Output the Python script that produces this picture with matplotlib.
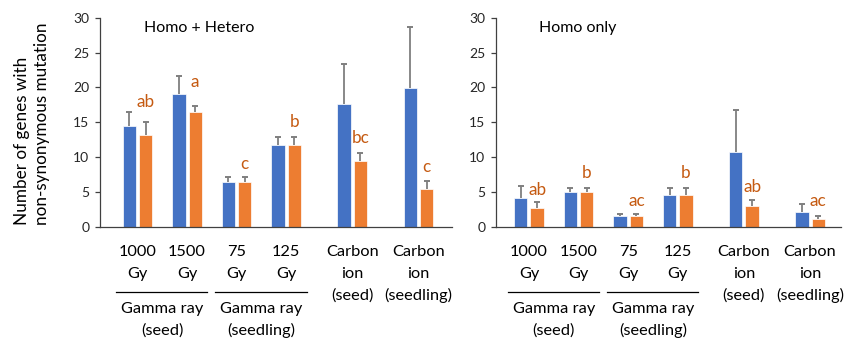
import numpy as np
import matplotlib
matplotlib.use('Agg')
import matplotlib.pyplot as plt

plt.rcParams['font.family'] = ['Lato', 'DejaVu Sans']

# --- data ---
groups = ["1000 Gy", "1500 Gy", "75 Gy", "125 Gy", "Carbon ion (seed)", "Carbon ion (seedling)"]
cat_lines = [["1000", "Gy"], ["1500", "Gy"], ["75", "Gy"], ["125", "Gy"],
             ["Carbon", "ion", "(seed)"], ["Carbon", "ion", "(seedling)"]]
super_labels = [["Gamma ray", "(seed)"], ["Gamma ray", "(seedling)"]]
super_span = [(0, 1), (2, 3)]
xpos = [0, 1, 2, 3, 4.333, 5.667]

hh_blue = [14.5, 19.0, 6.5, 11.7, 17.6, 19.9]
hh_blue_err = [2.0, 2.7, 0.6, 1.2, 5.7, 8.8]
hh_orange = [13.2, 16.5, 6.5, 11.7, 9.4, 5.4]
hh_orange_err = [1.9, 0.9, 0.6, 1.2, 1.2, 1.2]
hh_letters = ["ab", "a", "c", "b", "bc", "c"]
hh_gap = [2.1, 2.6, 1.15, 1.45, 1.5, 1.35]

ho_blue = [4.2, 5.05, 1.57, 4.58, 10.78, 2.19]
ho_blue_err = [1.7, 0.53, 0.29, 1.0, 5.96, 1.05]
ho_orange = [2.77, 5.05, 1.57, 4.58, 3.05, 1.19]
ho_orange_err = [0.81, 0.53, 0.29, 1.0, 0.75, 0.34]
ho_letters = ["ab", "b", "ac", "b", "ab", "ac"]
ho_gap = [1.05, 1.4, 1.1, 1.4, 1.16, 1.5]

BLUE, ORANGE, LETTER, EGRAY = "#4472C4", "#ED7D31", "#C55A11", "#7F7F7F"
PX = 1 / 1.389  # pixels -> points at dpi 100

fig = plt.figure(figsize=(8.44, 3.38), dpi=100)
ax1 = fig.add_axes([100 / 844, 1 - 227 / 338, 352 / 844, 209.3 / 338])
ax2 = fig.add_axes([496 / 844, 1 - 227 / 338, 345 / 844, 209.3 / 338])


def upper_err(ax, x, v, e):
    # one-sided error bar: stem + top cap only
    top = np.array(v) + np.array(e)
    ax.vlines(x, v, top, color=EGRAY, linewidth=1.3, zorder=1)
    ax.plot(x, top, ls="none", marker="_", ms=4.2, mew=1.4, color=EGRAY, zorder=1)


def draw_panel(ax, blue, berr, orange, oerr, letters, gaps, title, xlim):
    x = np.array(xpos)
    w, off = 0.27, 0.165
    upper_err(ax, x - off, blue, berr)
    upper_err(ax, x + off, orange, oerr)
    ax.bar(x - off, blue, w, color=BLUE, edgecolor="white", linewidth=0.5, zorder=2)
    ax.bar(x + off, orange, w, color=ORANGE, edgecolor="white", linewidth=0.5, zorder=2)
    for xi, v, e, lt, g in zip(x, orange, oerr, letters, gaps):
        ax.text(xi + off, v + e + g, lt, ha="center", va="baseline",
                color=LETTER, fontsize=12.3)
    ax.set_xlim(*xlim)
    ax.set_ylim(0, 30)
    ax.set_yticks(range(0, 31, 5))
    ax.set_xticks([])
    for s in ("top", "right"):
        ax.spines[s].set_visible(False)
    for s in ("left", "bottom"):
        ax.spines[s].set_color("#404040")
        ax.spines[s].set_linewidth(0.9)
    ax.tick_params(axis="y", length=3.6, width=0.9, color="#404040",
                   labelsize=10, labelcolor="#262626", pad=4)
    ax.text(0.125, 0.952, title, transform=ax.transAxes, ha="left", va="center",
            fontsize=11.5, color="black")

    tr = ax.get_xaxis_transform()
    # category labels
    for xi, lines in zip(x, cat_lines):
        for k, ln in enumerate(lines):
            ax.annotate(ln, xy=(xi, 0), xycoords=tr,
                        xytext=(0, -(29.5 + 21.8 * k) * PX), textcoords="offset points",
                        ha="center", va="baseline", fontsize=11.8, color="black")
    # group labels with separator line
    for (a, b), lines in zip(super_span, super_labels):
        ax.plot([x[a] - 0.43, x[b] + 0.41], [-64.7 / 209.3] * 2, transform=tr,
                color="black", linewidth=0.9, clip_on=False)
        xc = (x[a] + x[b]) / 2
        for k, ln in enumerate(lines):
            ax.annotate(ln, xy=(xc, 0), xycoords=tr,
                        xytext=(0, -(86.3 + 21.5 * k) * PX), textcoords="offset points",
                        ha="center", va="baseline", fontsize=11.8, color="black")


draw_panel(ax1, hh_blue, hh_blue_err, hh_orange, hh_orange_err, hh_letters, hh_gap,
           "Homo + Hetero", (-0.756, 6.345))
draw_panel(ax2, ho_blue, ho_blue_err, ho_orange, ho_orange_err, ho_letters, ho_gap,
           "Homo only", (-0.665, 6.29))

ylab = fig.text(32 / 844, 1 - 124 / 338, "Number of genes with\nnon-synonymous mutation",
                rotation=90, ha="center", va="center", multialignment="left",
                fontsize=12.3, linespacing=1.3, color="black")

fig.savefig("out.png", dpi=100, facecolor="white")
